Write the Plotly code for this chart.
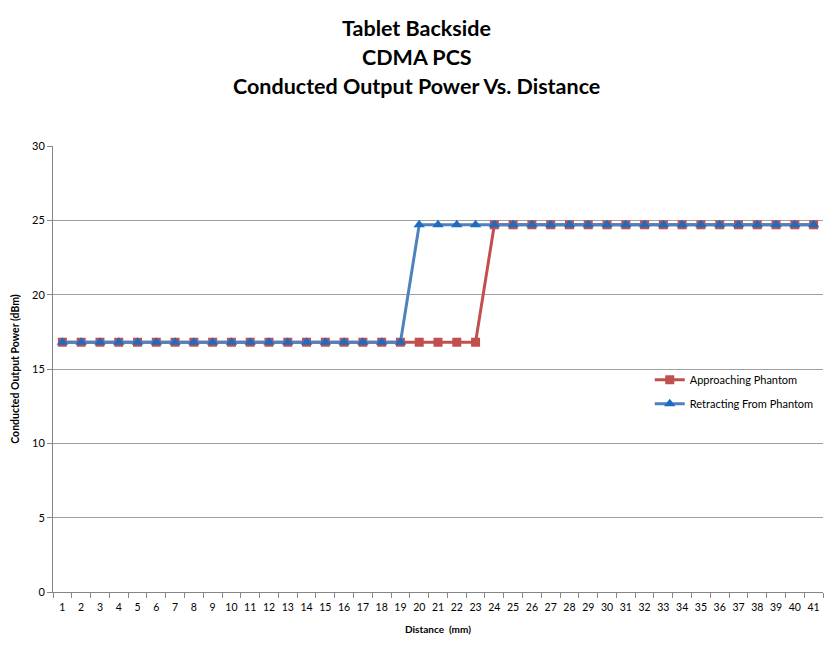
import plotly.graph_objects as go

distance_mm = [str(d) for d in range(1, 42)]
approaching_dbm = [16.8] * 23 + [24.7] * 18
retracting_dbm = [16.8] * 19 + [24.7] * 22
y_ticks = [0, 5, 10, 15, 20, 25, 30]

FONT = "Lato"

fig = go.Figure()
fig.add_trace(go.Scatter(
    x=distance_mm, y=approaching_dbm, name="Approaching Phantom",
    mode="lines+markers", legend="legend",
    line=dict(color="#C0504D", width=3),
    marker=dict(symbol="square", size=9, color="#C0504D"),
))
fig.add_trace(go.Scatter(
    x=distance_mm, y=retracting_dbm, name="Retracting From Phantom",
    mode="lines+markers", legend="legend2",
    line=dict(color="#4F81BD", width=3),
    marker=dict(symbol="triangle-up", size=10, color="#1F6BBF"),
))

# Three-line title, centred on the page
title_lines = ["Tablet Backside", "CDMA PCS", "Conducted Output Power Vs. Distance"]
title_y = [1.2646, 1.1996, 1.1345]
for txt, yy in zip(title_lines, title_y):
    fig.add_annotation(text="<b>%s</b>" % txt, x=0.5, xref="paper", y=yy, yref="paper",
                       xanchor="center", yanchor="middle", showarrow=False,
                       font=dict(family=FONT, size=21.5, color="#000000"))

legend_style = dict(xanchor="left", yanchor="middle", bgcolor="rgba(0,0,0,0)",
                    font=dict(family=FONT, size=11), itemwidth=30)

fig.update_layout(
    width=833, height=651,
    margin=dict(l=53, r=10, t=146, b=59),
    paper_bgcolor="white", plot_bgcolor="white",
    font=dict(family=FONT, size=11, color="#000000"),
    showlegend=True,
    legend=dict(x=0.775, y=0.476, **legend_style),
    legend2=dict(x=0.775, y=0.422, **legend_style),
    xaxis=dict(
        type="category", tickson="boundaries", showgrid=False,
        showline=True, linecolor="#868686", linewidth=1,
        ticks="outside", ticklen=5, tickcolor="#868686",
        tickfont=dict(size=10.5), tickangle=0, range=[-0.5, 40.5],
        ticklabelstandoff=5,
        title=dict(text="<b>Distance  (mm)</b>", font=dict(size=10), standoff=14),
    ),
    yaxis=dict(
        range=[0, 30], tickvals=y_ticks, showgrid=True, gridcolor="#A0A0A0", gridwidth=1,
        showline=True, linecolor="#868686", linewidth=1,
        ticks="outside", ticklen=5, tickcolor="#868686",
        tickfont=dict(size=11), zeroline=False,
        title=dict(text="<b>Conducted Output Power (dBm)</b>", font=dict(size=10.5), standoff=10),
    ),
)
# shift the title block to the page centre
for ann in fig.layout.annotations:
    ann.x = (833 / 2 - 53) / (833 - 53 - 10)

fig.write_html("out.html")
